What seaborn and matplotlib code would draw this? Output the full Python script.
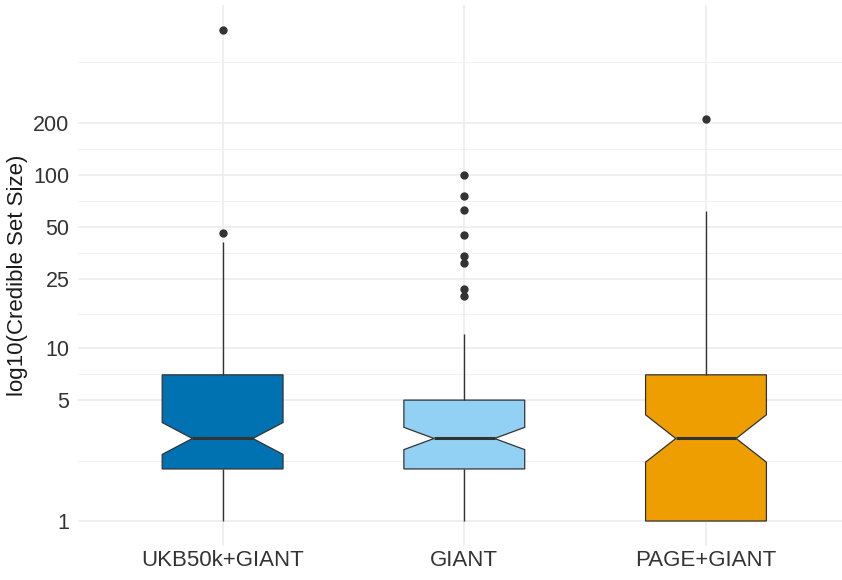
import numpy as np
import pandas as pd
import matplotlib
matplotlib.use("Agg")
import matplotlib.pyplot as plt
from matplotlib.ticker import FixedLocator, FixedFormatter, NullFormatter
import seaborn as sns

# Fine-mapping cohorts and their fill colours
groups = ["UKB50k+GIANT", "GIANT", "PAGE+GIANT"]
colors = ["#0072B2", "#92D1F4", "#EE9E00"]

# Credible set sizes and the number of loci with each size
ukb_sizes = [1, 2, 3, 4, 5, 6, 7, 8, 9, 10, 12, 14, 17, 20, 25, 30, 41, 46, 690]
ukb_counts = [10, 20, 16, 7, 6, 4, 4, 3, 2, 2, 2, 2, 1, 2, 1, 1, 1, 1, 1]

giant_sizes = [1, 2, 3, 4, 5, 6, 7, 8, 9, 10, 12, 20, 22, 31, 34, 45, 63, 76, 100]
giant_counts = [12, 20, 18, 12, 10, 5, 3, 2, 1, 1, 2, 1, 1, 1, 1, 1, 1, 1, 1]

page_sizes = [1, 2, 3, 4, 5, 6, 7, 8, 9, 10, 12, 15, 18, 22, 27, 33, 40, 50, 62, 211]
page_counts = [25, 15, 10, 8, 6, 5, 4, 3, 2, 3, 2, 2, 2, 1, 1, 1, 1, 1, 1, 1]

y_breaks = [1, 5, 10, 25, 50, 100, 200]

# Long-format table, one row per locus
frames = []
for name, sizes, counts in [
    (groups[0], ukb_sizes, ukb_counts),
    (groups[1], giant_sizes, giant_counts),
    (groups[2], page_sizes, page_counts),
]:
    vals = np.repeat(sizes, counts)
    frames.append(pd.DataFrame({"group": name, "size": vals}))
df = pd.concat(frames, ignore_index=True)

sns.set_style("white")
plt.rcParams["font.family"] = ["Liberation Sans", "DejaVu Sans"]

fig = plt.figure(figsize=(8.42, 5.8), dpi=100)
ax = fig.add_axes([77.6 / 842, (580 - 545.6) / 580, (851 - 77.6) / 842, (545.6 - 5.3) / 580])

line_col = "#333333"
sns.boxplot(
    data=df, x="group", y="size", hue="group",
    order=groups, hue_order=groups, palette=colors, saturation=1,
    width=0.5, notch=True, showcaps=False, log_scale=True,
    linecolor=line_col, linewidth=0.9, legend=False, ax=ax,
    flierprops=dict(marker="o", markersize=5, markerfacecolor=line_col,
                    markeredgecolor=line_col),
    medianprops=dict(linewidth=2.2, color=line_col),
    whiskerprops=dict(linewidth=1.0, color=line_col),
)

ax.set_xlim(-0.6, 2.6)
ax.set_ylim(10 ** -0.142, 10 ** 2.981)

ax.yaxis.set_major_locator(FixedLocator(y_breaks))
ax.yaxis.set_major_formatter(FixedFormatter([str(b) for b in y_breaks]))
edges = np.array(y_breaks + [1000], dtype=float)
minor = np.sqrt(edges[:-1] * edges[1:])
ax.yaxis.set_minor_locator(FixedLocator(minor))
ax.yaxis.set_minor_formatter(NullFormatter())

ax.set_axisbelow(True)
ax.grid(which="major", color="#EBEBEB", linewidth=1.1)
ax.grid(which="minor", axis="y", color="#EFEFEF", linewidth=0.6)

ax.tick_params(which="both", length=0)
ax.tick_params(axis="y", pad=6, labelsize=15.5, labelcolor="#333333")
ax.tick_params(axis="x", pad=3, labelsize=16, labelcolor="#333333")
for s in ax.spines.values():
    s.set_visible(False)

ax.set_xlabel("")
ax.set_ylabel("log10(Credible Set Size)", fontsize=16, color="#1a1a1a")
ax.yaxis.set_label_coords(-0.064, 0.5)

fig.savefig("out.png", dpi=100)
